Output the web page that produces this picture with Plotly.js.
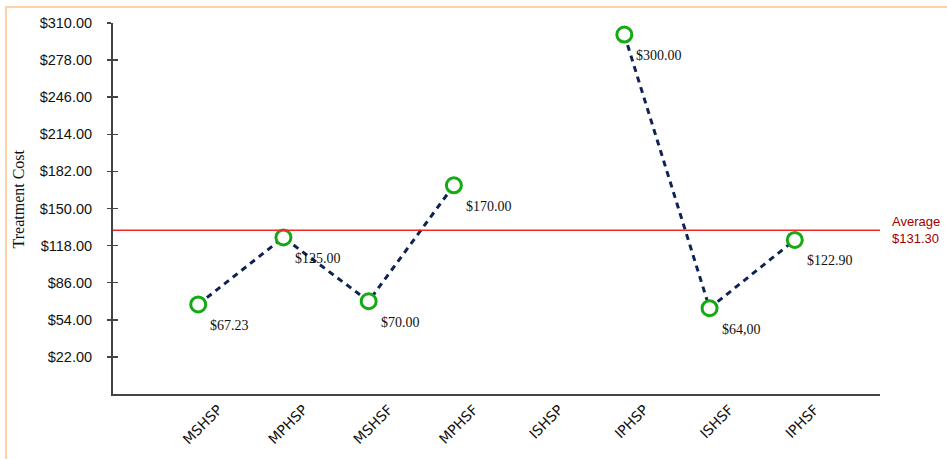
<!DOCTYPE html>
<html>
<head>
<meta charset="utf-8">
<script src="https://cdn.plot.ly/plotly-3.0.1.min.js"></script>
<style>
  html, body { margin: 0; padding: 0; background: #fff; }
  #wrap { position: relative; width: 947px; height: 459px; }
  #chart { position: absolute; left: 0; top: 0; width: 947px; height: 459px; }
  #frame {
    position: absolute; left: 5px; top: 6px; right: 0; bottom: 0;
    border-top: 2px solid #fcd2a8; border-left: 2px solid #fcd2a8;
    pointer-events: none;
  }
</style>
</head>
<body>
<div id="wrap">
  <div id="chart"></div>
  <div id="frame"></div>
</div>
<script>
// Treatment cost per group (ISHSP has no value)
const categories = ['MSHSP', 'MPHSP', 'MSHSF', 'MPHSF', 'ISHSP', 'IPHSP', 'ISHSF', 'IPHSF'];
const costs = [67.23, 125.00, 70.00, 170.00, null, 300.00, 64.00, 122.90];
const costLabels = ['$67.23', '$125.00', '$70.00', '$170.00', '', '$300.00', '$64,00', '$122.90'];
const yTicks = [22, 54, 86, 118, 150, 182, 214, 246, 278, 310];
const yTickText = yTicks.map(v => '$' + v.toFixed(2));

const present = costs.filter(v => v !== null);
const average = present.reduce((a, b) => a + b, 0) / present.length;

const costTrace = {
  type: 'scatter',
  mode: 'lines+markers',
  x: categories,
  y: costs,
  connectgaps: false,
  line: { color: '#0f2352', width: 3, dash: '6px,5px' },
  marker: { symbol: 'circle', size: 15, color: '#ffffff', line: { color: '#14aa14', width: 3 } },
  hoverinfo: 'x+y',
  showlegend: false
};

// carrier for the secondary y axis (inner half of the crossing ticks)
const tickCarrier = {
  type: 'scatter', mode: 'none', x: categories, y: costs,
  yaxis: 'y2', hoverinfo: 'skip', showlegend: false
};

const annotations = [];
categories.forEach((c, i) => {
  if (costs[i] === null) return;
  annotations.push({
    x: c, y: costs[i], xref: 'x', yref: 'y',
    text: costLabels[i], showarrow: false,
    xanchor: 'left', yanchor: 'middle', xshift: 10, yshift: -21,
    font: { family: 'Liberation Serif, Times New Roman, serif', size: 14, color: '#111' }
  });
});

annotations.push({
  x: 1, xref: 'paper', y: average, yref: 'y',
  text: 'Average<br>$' + average.toFixed(2), showarrow: false,
  xanchor: 'left', yanchor: 'middle', xshift: 10, align: 'left',
  font: { family: 'Liberation Sans, Arial, sans-serif', size: 13, color: '#a00000' }
});

annotations.push({
  x: 0, xref: 'paper', y: 0.5, yref: 'paper', yshift: 9, xshift: -95,
  text: 'Treatment Cost', textangle: -90, showarrow: false,
  xanchor: 'center', yanchor: 'middle',
  font: { family: 'Liberation Serif, Times New Roman, serif', size: 16, color: '#111' }
});

const layout = {
  width: 947, height: 459,
  margin: { l: 113, r: 67, t: 23, b: 65 },
  paper_bgcolor: 'rgba(0,0,0,0)',
  plot_bgcolor: 'rgba(0,0,0,0)',
  showlegend: false,
  xaxis: {
    type: 'category', range: [-1, 8],
    showline: true, linecolor: '#444', linewidth: 2,
    showgrid: false, zeroline: false, ticks: '',
    tickangle: -45, ticklabelshift: 20,
    tickfont: { family: 'DejaVu Sans, Verdana, sans-serif', size: 14, color: '#111' }
  },
  yaxis: {
    range: [-10, 310],
    tickmode: 'array', tickvals: yTicks, ticktext: yTickText,
    showline: true, linecolor: '#444', linewidth: 2,
    showgrid: false, zeroline: false,
    ticks: 'outside', ticklen: 4, tickwidth: 1.5, tickcolor: '#444',
    ticklabelstandoff: 12,
    tickfont: { family: 'Liberation Sans, Arial, sans-serif', size: 14.5, color: '#111' }
  },
  yaxis2: {
    overlaying: 'y', side: 'left', range: [-10, 310],
    tickmode: 'array', tickvals: yTicks,
    showticklabels: false, showline: false, showgrid: false, zeroline: false,
    ticks: 'inside', ticklen: 5, tickwidth: 1.5, tickcolor: '#444'
  },
  shapes: [{
    type: 'line', xref: 'paper', x0: 0, x1: 1, yref: 'y', y0: average, y1: average,
    line: { color: '#f02828', width: 1.5 }
  }],
  annotations: annotations
};

Plotly.newPlot('chart', [tickCarrier, costTrace], layout, { displayModeBar: false, staticPlot: true });
</script>
</body>
</html>
